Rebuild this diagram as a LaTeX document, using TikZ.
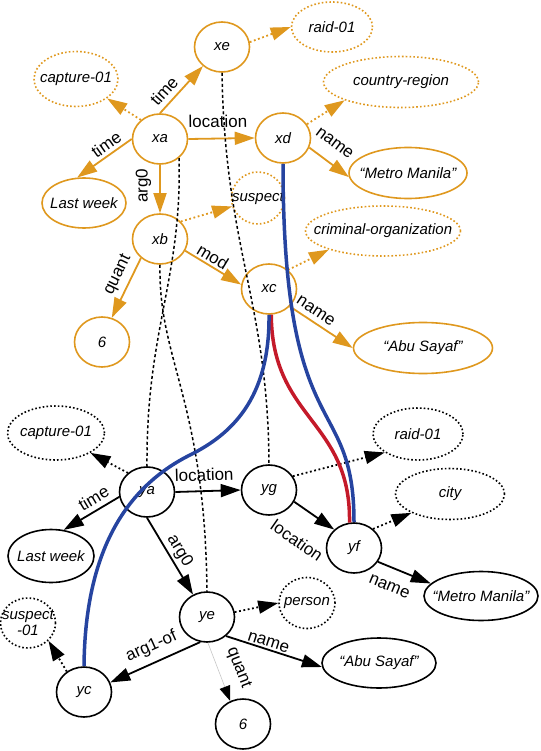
\documentclass[tikz,border=0pt]{standalone}
\usepackage{fontspec}
\setmainfont{Liberation Sans}
\usepackage{xcolor}
\usetikzlibrary{arrows.meta,shapes.geometric}

\definecolor{amber}{RGB}{223,152,30}
\definecolor{aliblue}{RGB}{38,68,160}
\definecolor{alired}{RGB}{196,26,42}

\begin{document}
\begin{tikzpicture}[x=1pt, y=-1pt, >={Triangle[length=20pt,width=13pt]},
  var/.style={draw, ellipse, line width=1.6pt, minimum width=55pt, minimum height=50pt, inner sep=0pt, text=black, font=\itshape\fontsize{15}{16}\selectfont},
  wide/.style={execute at begin node={\hbox to 0pt\bgroup\hss}, execute at end node={\hss\egroup}},
  lit/.style={var, wide},
  con/.style={lit, dash pattern=on 1.6pt off 2.2pt},
  rel/.style={->, line width=1.8pt},
  inst/.style={rel, dash pattern=on 1.8pt off 2.6pt},
  lab/.style={text=black, font=\fontsize{17}{18}\selectfont, sloped, inner sep=0pt},
  algn/.style={black, line width=1.5pt, dash pattern=on 3pt off 2.5pt},
  tie/.style={line width=3.5pt}]
  \useasboundingbox (0,0) rectangle (540,751);
  \begin{scope}[amber]
  \node[var] (xe) at (222,47) {xe};
  \node[con, minimum width=81pt] (raid1) at (332,27) {raid-01};
  \node[con, minimum width=84pt, minimum height=55pt] (cap1) at (76,79) {capture-01};
  \node[var] (xa) at (160,139) {xa};
  \node[var] (xd) at (283,138) {xd};
  \node[con, minimum width=155pt, minimum height=51pt] (reg1) at (401,82) {country-region};
  \node[lit, minimum width=118pt, minimum height=51pt] (mm1) at (408,173) {“Metro Manila”};
  \node[lit, minimum width=84pt] (lw1) at (84,203) {Last week};
  \node[var] (xb) at (160,239) {xb};
  \node[con, minimum width=53pt, minimum height=52pt] (sus1) at (258,198) {suspect};
  \node[con, minimum width=155pt] (crim) at (383,231) {criminal-organization};
  \node[var] (xc) at (269,289) {xc};
  \node[lit, minimum width=139pt, minimum height=51pt] (abu1) at (423,348) {“Abu Sayaf”};
  \node[var] (six1) at (102,342) {6};
  \draw[rel] (xa.north) -- node[lab, above=5pt, pos=.3]{time} (xe.225);
  \draw[inst] (xa.135) -- (cap1.-32);
  \draw[rel] (xa.west) -- node[lab, above=3pt, pos=.36]{time} (lw1.105);
  \draw[rel] (xa.east) -- node[lab, above=10pt, pos=.45]{location} (xd.west);
  \draw[rel] (xa.south) -- node[lab, rotate=180, above=8pt, pos=.43]{arg0} (xb.north);
  \draw[inst] (xe.10) -- (raid1.west);
  \draw[inst] (xd.30) -- (reg1.198);
  \draw[rel] (xd.-20) -- node[lab, above=13pt, pos=.36]{name} (mm1.184);
  \draw[inst] (xb.40) -- (sus1.198);
  \draw[rel] (xb.-25) -- node[lab, above=2pt, pos=.41]{mod} (xc.171);
  \draw[rel] (xb.225) -- node[lab, above=5pt, pos=.38]{quant} (six1.68);
  \draw[inst] (xc.45) -- (crim.199);
  \draw[rel] (xc.-40) -- node[lab, above=5pt, pos=.32]{name} (abu1.west);
  \end{scope}

  \node[con, minimum width=97pt, minimum height=54pt] (cap2) at (56,433) {capture-01};
  \node[var] (ya) at (147,492) {ya};
  \node[lit, minimum width=86pt, minimum height=53pt] (lw2) at (51,556) {Last week};
  \node[var] (yg) at (269,490) {yg};
  \node[con, minimum width=90pt, minimum height=52pt] (raid2) at (418,434) {raid-01};
  \node[con, minimum width=109pt, minimum height=51pt] (city) at (450,494) {city};
  \node[var] (yf) at (354,548) {yf};
  \node[lit, minimum width=114pt, minimum height=49pt] (mm2) at (481,596) {“Metro Manila”};
  \node[var] (ye) at (207,617) {ye};
  \node[con, minimum width=56pt, minimum height=51pt] (per) at (307,603) {person};
  \node[lit, minimum width=114pt] (abu2) at (379,663) {“Abu Sayaf”};
  \node[var, dash pattern=on 1.6pt off 2.2pt, align=center, inner xsep=-8pt] (sus2) at (28,623) {suspect\\-01};
  \node[var] (yc) at (84,692) {yc};
  \node[var] (six2) at (243,724) {6};
  \draw[inst] (ya.135) -- (cap2.-30);
  \draw[rel] (ya.190) -- node[lab, above=5pt, pos=.35]{time} (lw2.64);
  \draw[rel] (ya.east) -- node[lab, above=9pt, pos=.45]{location} (yg.west);
  \draw[rel] (ya.south) -- node[lab, above=2.5pt]{arg0} (ye.122);
  \draw[inst] (yg.30) -- (raid2.209);
  \draw[rel] (yg.-25) -- node[lab, below=23pt]{location} (yf.137);
  \draw[inst] (yf.45) -- (city.206);
  \draw[rel] (yf.-30) -- node[lab, below=13pt, pos=.35]{name} (mm2.166);
  \draw[inst] (ye.10) -- (per.west);
  \draw[rel] (ye.-45) -- node[lab, above=1.5pt, pos=.42]{name} (abu2.184);
  \draw[draw=gray!45, line width=.6pt, -{Triangle[length=15pt,width=11pt,black]}] (ye.-88) -- node[lab, above=12pt, pos=.55]{quant} (six2.119);
  \draw[rel] (ye.255) -- node[lab, above=7pt, pos=.47]{arg1-of} (yc.20);
  \draw[inst] (yc.130) -- (sus2.-41);

  \draw[algn] (xe.south) .. controls (225,250) and (268,300) .. (yg.north);
  \draw[algn] (xa.-45) .. controls (182,280) and (146,330) .. (ya.north);
  \draw[algn] (xb.south) .. controls (158,360) and (205,400) .. (ye.north);
  \draw[tie, alired] (xc.-85) .. controls (272,420) and (351,420) .. (yf.100);
  \draw[tie, aliblue] (xd.south) .. controls (283,450) and (354,390) .. (yf.north);
  \draw[tie, aliblue] (xc.south) .. controls (270,400) and (230,435) .. (190,455) .. controls (120,490) and (85,560) .. (yc.north);
\end{tikzpicture}
\end{document}
